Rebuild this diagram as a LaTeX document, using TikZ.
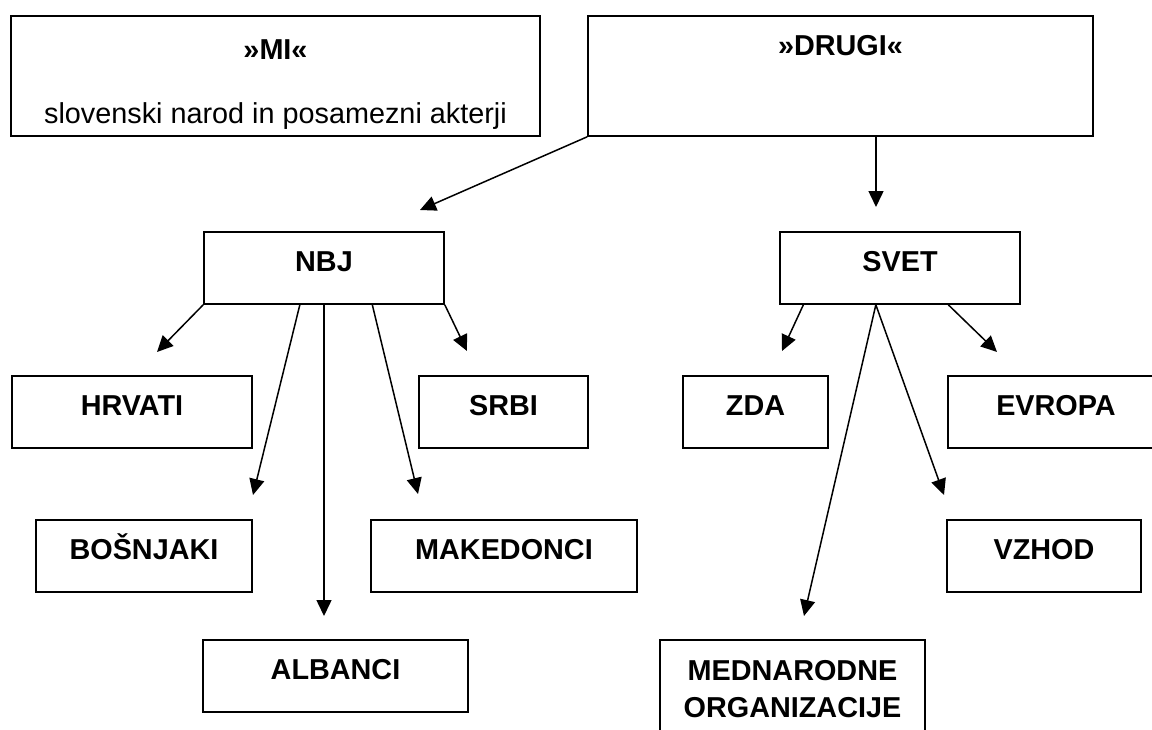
\documentclass[tikz,border=0pt]{standalone}
\usepackage{fontspec}
\setmainfont{Liberation Sans}
\usetikzlibrary{arrows.meta}
\usetikzlibrary{calc}

\begin{document}
\begin{tikzpicture}[x=0.5pt, y=-0.5pt, line width=0.75pt,
  >={Triangle[length=8pt,width=7.5pt]}]

\tikzstyle{grpbox}=[draw=black, line width=0.8pt, inner sep=0pt,
font=\fontsize{14.4}{18.5}\selectfont\bfseries]
\tikzstyle{grpnode}=[grpbox, minimum height=36pt, text height=10.4pt, text depth=7.4pt]
\tikzstyle{grplabel}=[anchor=base, inner sep=0pt, font=\fontsize{14.4}{18.5}\selectfont]

\clip (0,0) rectangle (1152,729);
\fill[white] (0,0) rectangle (1152,729);

% top row
\node[grpbox, minimum width=264.5pt, minimum height=60pt] (mi) at (275.5,76) {};
\node[grplabel, font=\fontsize{14.4}{18.5}\selectfont\bfseries] (mititle) at (275.5,59) {»MI«};
\node[grplabel] (misub) at (275.5,123) {slovenski narod in posamezni akterji};
\node[grpbox, minimum width=252.5pt, minimum height=60pt] (drugi) at (840.5,76) {};
\node[grplabel, font=\fontsize{14.4}{18.5}\selectfont\bfseries] (drugititle) at (840.5,55) {»DRUGI«};

% second row
\node[grpnode, minimum width=120pt] (nbj) at (324,268) {NBJ};
\node[grpnode, minimum width=120pt] (svet) at (900,268) {SVET};

% nations and world
\node[grpnode, minimum width=120pt] (hrvati) at (132,412) {HRVATI};
\node[grpnode, minimum width=84.5pt] (srbi) at (503.5,412) {SRBI};
\node[grpnode, minimum width=72.5pt] (zda) at (755.5,412) {ZDA};
\node[grpnode, minimum width=108pt] (evropa) at (1056,412) {EVROPA};
\node[grpnode, minimum width=108pt] (bosnjaki) at (144,556) {BOŠNJAKI};
\node[grpnode, minimum width=133pt] (makedonci) at (504,556) {MAKEDONCI};
\node[grpnode, minimum width=97pt] (vzhod) at (1044,556) {VZHOD};
\node[grpnode, minimum width=132.5pt] (albanci) at (335.5,676) {ALBANCI};
\node[grpbox, align=center, minimum width=132.5pt, minimum height=48.8pt] (mednarodne)
at (792.5,688.8) {MEDNARODNE\\ORGANIZACIJE};

\coordinate (tonbj) at (420,210);
\coordinate (tosvet) at (876,207);
\coordinate (tohrvati) at (157,352);
\coordinate (tobosnjaki) at (253,495);
\coordinate (toalbanci) at (324,616);
\coordinate (tomakedonci) at (418,494);
\coordinate (tosrbi) at (467,351);
\coordinate (tozda) at (782,351);
\coordinate (tomednarodne) at (804,616);
\coordinate (tovzhod) at (944,495);
\coordinate (toevropa) at (997,352);

\draw[->] (drugi.south west) -- (tonbj);
\draw[->] (drugi.south -| tosvet) -- (tosvet);

\draw[->] (nbj.south west) -- (tohrvati);
\draw[->] ($(nbj.south west)!0.4!(nbj.south east)$) -- (tobosnjaki);
\draw[->] (nbj.south) -- (toalbanci);
\draw[->] ($(nbj.south west)!0.7!(nbj.south east)$) -- (tomakedonci);
\draw[->] (nbj.south east) -- (tosrbi);

\draw[->] ($(svet.south west)!0.1!(svet.south east)$) -- (tozda);
\draw[->] ($(svet.south west)!0.4!(svet.south east)$) -- (tomednarodne);
\draw[->] ($(svet.south west)!0.4!(svet.south east)$) -- (tovzhod);
\draw[->] ($(svet.south west)!0.7!(svet.south east)$) -- (toevropa);
\end{tikzpicture}
\end{document}
